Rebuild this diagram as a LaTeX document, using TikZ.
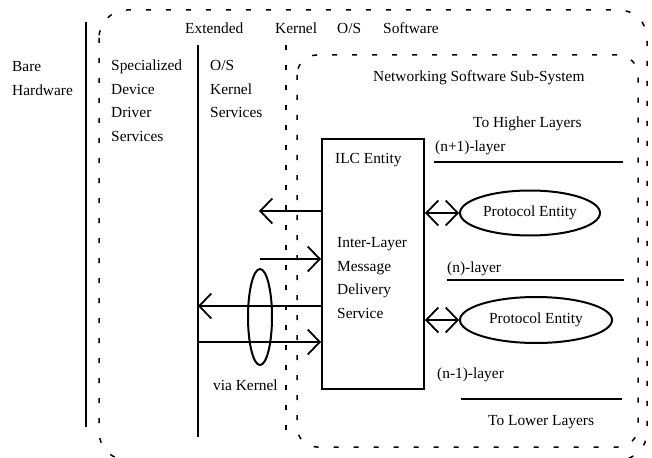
\documentclass[tikz,border=0pt]{standalone}
\usepackage{fontspec}
\setmainfont{Liberation Serif}
\usetikzlibrary{arrows.meta,shapes.geometric}
\begin{document}
\begin{tikzpicture}[x=1pt,y=-1pt,
  lbl/.style={font=\fontsize{15.4}{18}\selectfont, inner sep=0pt, anchor=base west},
  rule/.style={line width=2pt},
  dashbox/.style={line width=1.5pt, dash pattern=on 5pt off 15pt},
  barb/.tip={Straight Barb[length=12pt,width=25pt,line width=1.8pt]},
  arr/.style={line width=2pt, -barb},
  darr/.style={line width=2pt, barb-barb},
  ell/.style={ellipse, draw, line width=2pt, inner sep=0pt, font=\fontsize{15.4}{18}\selectfont}
]
\useasboundingbox (0,0) rectangle (652,457);

% dashed boxes
\draw[dashbox, rounded corners=28pt] (99,10) rectangle (647,460);
\draw[dashbox, rounded corners=20pt] (297,55) rectangle (638,447);
\draw[dashbox] (286,45) -- (286,440);

% solid separators
\draw[rule] (86,22) -- (86,427);
\draw[rule] (198,45) -- (198,437);

% column texts
\node[lbl] (t1) at (12,72) {Bare};
\node[lbl] (t2) at (12,96) {Hardware};
\node[lbl] (t3) at (111,71) {Specialized};
\node[lbl] (t4) at (111,95) {Device};
\node[lbl] (t5) at (111,118) {Driver};
\node[lbl] (t6) at (111,142) {Services};
\node[lbl] (t7) at (210,71) {O/S};
\node[lbl] (t8) at (210,95) {Kernel};
\node[lbl] (t9) at (210,118) {Services};

\node[lbl] (e1) at (185,34) {Extended};
\node[lbl] (e2) at (275,34) {Kernel};
\node[lbl] (e3) at (337,34) {O/S};
\node[lbl] (e4) at (383,34) {Software};

\node[lbl] (nss) at (373,82) {Networking Software Sub-System};
\node[lbl] (thl) at (473,128) {To Higher Layers};
\node[lbl] (l1) at (435,152) {(n+1)-layer};
\node[lbl] (l2) at (447,272) {(n)-layer};
\node[lbl] (l3) at (437,378) {(n-1)-layer};
\node[lbl] (tll) at (488,425) {To Lower Layers};

% layer rules
\draw[rule] (434,162) -- (623,162);
\draw[rule] (447,280) -- (624,280);
\draw[rule] (461,399) -- (622,399);

% ILC box
\node[draw, line width=2pt, minimum width=102pt, minimum height=250pt, inner sep=0pt] (ilc) at (373,264) {};
\node[lbl] (ilct) at (335,163) {ILC Entity};
\node[lbl] (m1) at (337,247) {Inter-Layer};
\node[lbl] (m2) at (337,271) {Message};
\node[lbl] (m3) at (337,294) {Delivery};
\node[lbl] (m4) at (337,318) {Service};

% protocol entities
\node[ell, minimum width=140pt, minimum height=45pt] (pe1) at (530,213) {Protocol Entity};
\node[ell, minimum width=152pt, minimum height=46pt] (pe2) at (536,320) {Protocol Entity};
\draw[darr] (ilc.east |- pe1.west) -- (pe1.west);
\draw[darr] (ilc.east |- pe2.west) -- (pe2.west);

% kernel arrows
\coordinate (a1) at (259,211);
\coordinate (a2) at (260,259);
\coordinate (a3) at (198,306);
\coordinate (a4) at (198,342);
\draw[arr] (ilc.west |- a1) -- (a1);
\draw[arr] (a2) -- (ilc.west |- a2);
\draw[arr] (ilc.west |- a3) -- (a3);
\draw[arr] (a4) -- (ilc.west |- a4);

\node[ell, minimum width=24pt, minimum height=96pt] (vk) at (260,317) {};
\node[lbl] (vkt) at (213,390) {via Kernel};
\end{tikzpicture}
\end{document}
